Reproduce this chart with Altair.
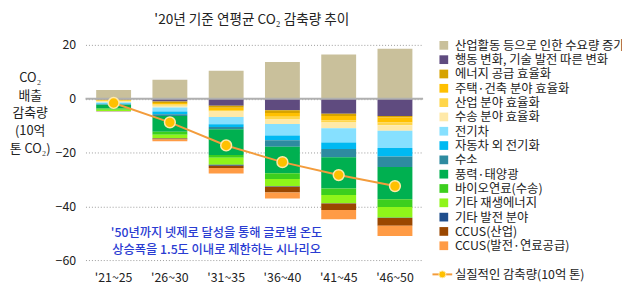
import altair as alt
import pandas as pd

periods = ["'21~25", "'26~30", "'31~35", "'36~40", "'41~45", "'46~50"]

categories = [
    "산업활동 등으로 인한 수요량 증가",
    "행동 변화, 기술 발전 따른 변화",
    "에너지 공급 효율화",
    "주택·건축 분야 효율화",
    "산업 분야 효율화",
    "수송 분야 효율화",
    "전기차",
    "자동차 외 전기화",
    "수소",
    "풍력·태양광",
    "바이오연료(수송)",
    "기타 재생에너지",
    "기타 발전 분야",
    "CCUS(산업)",
    "CCUS(발전·연료공급)",
]
colors = [
    "#C9C09B", "#5F4B7F", "#D6A300", "#FFC000", "#FFD64A", "#FFE9A8",
    "#86E0FF", "#00B9F2", "#2E8BA0", "#00B050", "#3CCF1E", "#8FF51A",
    "#1F4E8C", "#9A4700", "#FF9B45",
]

demand = [3.2, 7.0, 10.4, 13.6, 16.4, 18.6]
behavior = [-0.3, -1.1, -2.6, -4.3, -5.6, -6.4]
energy_supply = [-0.2, -0.5, -0.8, -1.0, -0.8, -0.6]
housing = [-0.3, -0.5, -0.8, -1.4, -1.6, -1.9]
industry = [-0.3, -0.5, -0.6, -0.9, -0.9, -1.0]
transport = [-0.3, -0.7, -2.0, -1.8, -2.1, -2.0]
ev = [-0.4, -1.5, -2.7, -4.3, -5.3, -6.4]
electrification = [-0.3, -1.0, -1.0, -1.8, -2.4, -3.2]
hydrogen = [-0.2, -0.6, -0.9, -2.4, -3.1, -3.9]
wind_solar = [-1.4, -5.9, -9.5, -9.8, -11.6, -12.0]
biofuel = [-0.4, -1.1, -1.1, -2.2, -2.4, -2.9]
other_renew = [-0.5, -1.3, -2.6, -2.7, -3.1, -4.0]
other_power = [-0.05, -0.1, -0.3, -0.1, -0.1, -0.1]
ccus_industry = [-0.05, -0.4, -0.9, -2.2, -2.4, -2.8]
ccus_power = [-0.1, -0.6, -2.0, -2.2, -3.4, -3.9]

net = [-1.6, -8.8, -17.4, -23.6, -28.4, -32.5]

series = [demand, behavior, energy_supply, housing, industry, transport, ev,
          electrification, hydrogen, wind_solar, biofuel, other_renew,
          other_power, ccus_industry, ccus_power]

rows = []
for i, p in enumerate(periods):
    for j, (c, vals) in enumerate(zip(categories, series)):
        rows.append({"period": p, "category": c, "value": vals[i], "order": j})
df = pd.DataFrame(rows)
net_df = pd.DataFrame({"period": periods, "net": net})
legend_df = pd.DataFrame({"category": categories})

FONT = "Noto Sans CJK KR"
TXT = "#222222"

y_scale = alt.Scale(domain=[-60, 20], nice=False, zero=False)
x_scale = alt.Scale(domain=periods, paddingInner=0.38, paddingOuter=0.19)
color_scale = alt.Scale(domain=categories, range=colors)

x_enc = alt.X(
    "period:N", sort=periods, scale=x_scale,
    axis=alt.Axis(title=None, labelAngle=0, ticks=False, domain=False,
                  labelFontSize=12.5, labelPadding=12, labelColor=TXT, grid=False),
)

bars = alt.Chart(df).mark_bar().encode(
    x=x_enc,
    y=alt.Y(
        "value:Q", stack="zero", scale=y_scale,
        axis=alt.Axis(
            values=[20, 0, -20, -40, -60], ticks=False, domain=False,
            labelFontSize=12.5, labelPadding=10, labelColor=TXT,
            grid=True, gridDash=[1, 2], gridColor="#9A9A9A", gridWidth=1,
            title=["CO₂", "배출", "감축량", "(10억", "톤 CO₂)"],
            titleAngle=0, titleAlign="center", titleBaseline="top",
            titleX=-56.5, titleY=27, titleFontSize=13, titleFontWeight="normal",
            titleLineHeight=18, titleColor=TXT,
        ),
    ),
    color=alt.Color("category:N", scale=color_scale, legend=None),
    order=alt.Order("order:Q", sort="ascending"),
)

zero = alt.Chart(pd.DataFrame({"y": [0]})).mark_rule(
    color="#B0B0B0", strokeWidth=2
).encode(y=alt.Y("y:Q", scale=y_scale))

line = alt.Chart(net_df).mark_line(color="#F39C3C", strokeWidth=2).encode(
    x=alt.X("period:N", sort=periods, scale=x_scale),
    y=alt.Y("net:Q", scale=y_scale),
)
pts = alt.Chart(net_df).mark_point(
    filled=True, size=120, fill="#FFC000", stroke="#FFE9A8",
    strokeWidth=1.5, opacity=1,
).encode(
    x=alt.X("period:N", sort=periods, scale=x_scale),
    y=alt.Y("net:Q", scale=y_scale),
)

main = alt.layer(bars, zero, line, pts)

# legend built from the category list (rows placed by a point scale)
leg_y = alt.Y("category:N", sort=categories,
              scale=alt.Scale(type="point", domain=categories, range=[0.5, 203.5], padding=0),
              axis=None)
leg_sq = alt.Chart(legend_df).mark_square(size=78, opacity=1).encode(
    x=alt.value(363), y=leg_y,
    color=alt.Color("category:N", scale=color_scale, legend=None),
)
leg_lb = alt.Chart(legend_df).mark_text(
    fontSize=12.5, color=TXT, align="left", baseline="middle", dy=0.5
).encode(x=alt.value(374.2), y=leg_y, text="category:N")
legend = alt.layer(leg_sq, leg_lb)

one = pd.DataFrame({"a": [0]})
title = alt.Chart(one).mark_text(
    fontSize=13.8, color=TXT, align="center", baseline="middle"
).encode(x=alt.value(168.5), y=alt.value(-25.5),
         text=alt.value("'20년 기준 연평균 CO₂ 감축량 추이"))

note1 = alt.Chart(one).mark_text(
    fontSize=12.4, color="#2A3CD2", align="center", baseline="middle", fontWeight=500
).encode(x=alt.value(132.8), y=alt.value(191),
         text=alt.value("'50년까지 넷제로 달성을 통해 글로벌 온도"))
note2 = alt.Chart(one).mark_text(
    fontSize=12.4, color="#2A3CD2", align="center", baseline="middle", fontWeight=500
).encode(x=alt.value(132.8), y=alt.value(208),
         text=alt.value("상승폭을 1.5도 이내로 제한하는 시나리오"))

leg_rule = alt.Chart(one).mark_rule(color="#F39C3C", strokeWidth=2).encode(
    x=alt.value(351.5), x2=alt.value(371.5), y=alt.value(232.5))
leg_pt = alt.Chart(one).mark_point(
    filled=True, size=50, fill="#FFC000", stroke="#FFE9A8", strokeWidth=1, opacity=1
).encode(x=alt.value(361.5), y=alt.value(232.5))
leg_txt = alt.Chart(one).mark_text(
    fontSize=12.5, color=TXT, align="left", baseline="middle", dy=0.5
).encode(x=alt.value(374.2), y=alt.value(232.5),
         text=alt.value("실질적인 감축량(10억 톤)"))

chart = alt.layer(
    main, legend, title, note1, note2, leg_rule, leg_pt, leg_txt
).resolve_scale(
    y="independent"
).properties(
    width=342, height=218,
    autosize=alt.AutoSizeParams(type="none"),
    padding={"left": 78.5, "top": 35.5, "right": 201.5, "bottom": 30},
).configure(
    font=FONT, background="white"
).configure_view(stroke=None)

chart.save("out.html", embed_options={"renderer": "svg", "actions": False})
